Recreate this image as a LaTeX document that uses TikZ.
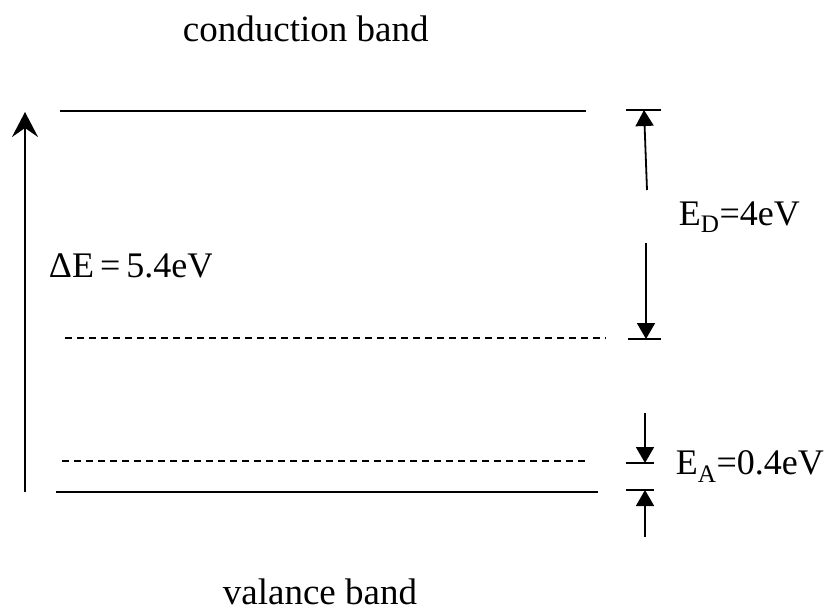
\documentclass[tikz,border=0pt]{standalone}
\usepackage{fontspec}
\setmainfont{Liberation Serif}
\usetikzlibrary{arrows.meta}

\begin{document}
\begin{tikzpicture}[x=1pt,y=-1pt,line width=1.8pt,
  lbl/.style={inner sep=0pt,anchor=base west,font=\fontsize{36}{43}\selectfont},
  tip/.style={-{Triangle[length=16pt,width=18pt]}}]
  \useasboundingbox (0,0) rectangle (827,611);
  % band edges and impurity levels
  \draw (60,111) -- (586,111); \draw[dash pattern=on 7pt off 5pt] (65,338) -- (606,338);
  \draw[dash pattern=on 7pt off 5pt] (62,461) -- (588,461); \draw (56,492) -- (598,492);
  \node[lbl,font=\fontsize{37}{44}\selectfont] (cb) at (182,41) {conduction band};
  \node[lbl,font=\fontsize{37}{44}\selectfont] (vb) at (222,604) {valance band};
  % total gap
  \coordinate (gb) at (25,492); \coordinate (gt) at (25,112);
  \draw[-{Stealth[length=25pt,width=26pt,inset=9pt]}] (gb) -- (gt);
  \begin{scope} \clip (0,200) rectangle (211,300); \node[lbl] (dE) at (48,277) {ΔE\,=\,5.4eV}; \end{scope}
  % donor level
  \coordinate (dt) at (644,110); \coordinate (db) at (646,339);
  \draw (626,110) -- (661,110); \draw (628,339) -- (661,339);
  \draw[tip] (647,190) -- (dt); \draw[tip] (646,243) -- (db);
  \node[lbl] (ED) at (678,225) {E\textsubscript{D}=4eV};
  % acceptor level
  \coordinate (at) at (645,463); \coordinate (ab) at (645,490);
  \draw (626,463) -- (654,463); \draw (626,490) -- (654,490);
  \draw[tip] (645,413) -- (at); \draw[tip] (645,537) -- (ab);
  \node[lbl] (EA) at (675,474) {E\textsubscript{A}=0.4eV};
\end{tikzpicture}
\end{document}
